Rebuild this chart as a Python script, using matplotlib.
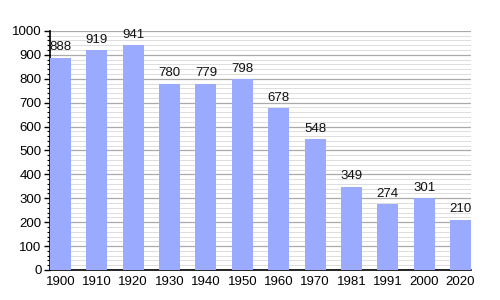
import numpy as np
import matplotlib.pyplot as plt
from matplotlib.ticker import MultipleLocator

plt.rcParams['font.family'] = ['Liberation Sans', 'DejaVu Sans']
plt.rcParams['font.size'] = 9.5

# Data
years = ['1900', '1910', '1920', '1930', '1940', '1950',
         '1960', '1970', '1981', '1991', '2000', '2020']
population = [888, 919, 941, 780, 779, 798, 678, 548, 349, 274, 301, 210]

fig = plt.figure(figsize=(5, 3), dpi=100)
ax = fig.add_axes([0.10, 0.10, 0.842, 0.797])

x = np.arange(len(years))
w = 0.5775
ax.bar(x, population, width=w, color='#99aaff', zorder=3)

for xi, v in zip(x, population):
    ax.text(xi, v + 18, str(v), ha='center', va='bottom', fontsize=9.5, color='#111111', zorder=4)

ax.set_xlim(-w / 2, len(years) - 1 + w / 2)
ax.set_ylim(0, 1000)
ax.set_xticks(x)
ax.set_xticklabels(years)
ax.yaxis.set_major_locator(MultipleLocator(100))
ax.yaxis.set_minor_locator(MultipleLocator(20))

ax.grid(which='major', axis='y', color='#aaaaaa', linewidth=0.9, zorder=1)
ax.grid(which='minor', axis='y', color='#dddddd', linewidth=0.7, zorder=0)

for s in ['top', 'right']:
    ax.spines[s].set_visible(False)
ax.spines['left'].set_linewidth(1.2)
ax.spines['bottom'].set_linewidth(1.2)

ax.tick_params(axis='x', length=0, pad=4)
ax.tick_params(axis='y', which='major', length=4, width=1, pad=2)
ax.tick_params(axis='y', which='minor', length=2, width=0.8)

fig.savefig('out.png', dpi=100)
